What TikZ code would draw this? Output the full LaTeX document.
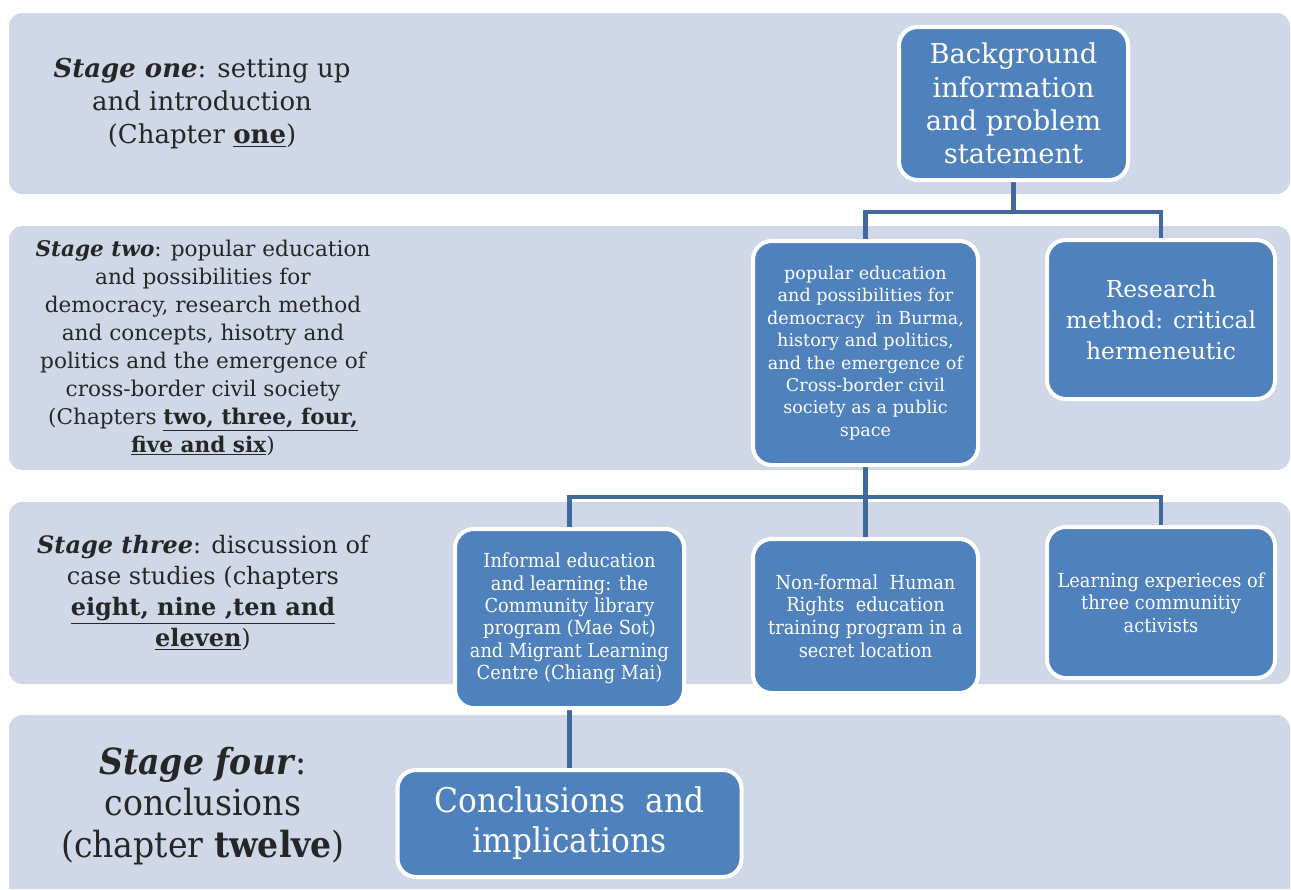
\documentclass[tikz,border=0pt]{standalone}
\usepackage{fontspec}
\setmainfont{DejaVu Serif}
\newfontfamily\narrowfont[FakeStretch=0.92]{DejaVu Serif}
\usetikzlibrary{positioning,calc}

\definecolor{bandgray}{HTML}{D0D8E8}
\definecolor{boxblue}{HTML}{4F81BD}
\definecolor{linkblue}{HTML}{41699B}
\definecolor{stagetext}{HTML}{262626}

\pgfdeclarelayer{bands}
\pgfdeclarelayer{links}
\pgfsetlayers{bands,links,main}

\begin{document}
\begin{tikzpicture}[x=0.75pt, y=-0.75pt,
    band/.style={fill=bandgray, rounded corners=10pt},
    stage/.style={align=center, text=stagetext},
    stepbox/.style={draw=white, line width=3pt, fill=boxblue, rounded corners=14pt,
                    text=white, align=center, inner sep=0pt},
    link/.style={draw=linkblue, line width=3.5pt}]
\useasboundingbox (0,0) rectangle (1291,889);

% Stage bands
\begin{pgfonlayer}{bands}
  \fill[band] (9,13) rectangle (1290,194);
  \fill[band] (9,226) rectangle (1290,470);
  \fill[band] (9,502) rectangle (1290,684);
  \fill[bandgray] (9,889) [rounded corners=10pt] -- (9,715) -- (1290,715) [sharp corners] -- (1290,889) -- cycle;
\end{pgfonlayer}

% Stage labels
\node[stage, font=\fontsize{19.5}{24.75}\selectfont] (stageone) at (202,104)
  {\textbf{\textit{Stage one}}: setting up\\ and introduction\\ (Chapter \underline{\textbf{one}})};
\node[stage, font=\fontsize{16.2}{21}\selectfont] (stagetwo) at (203,348)
  {\textbf{\textit{Stage two}}: popular education\\ and possibilities for\\ democracy, research method\\
   and concepts, hisotry and\\ politics and the emergence of\\ cross-border civil society\\
   (Chapters \underline{\textbf{two, three, four,}}\\ \underline{\textbf{five and six}})};
\node[stage, font=\fontsize{18}{23.25}\selectfont] (stagethree) at (203,593)
  {\textbf{\textit{Stage three}}: discussion of\\ case studies (chapters\\
   \underline{\textbf{eight, nine ,ten and}}\\ \underline{\textbf{eleven}})};
\node[stage, font=\narrowfont\fontsize{27}{31}\selectfont] (stagefour) at (203,806)
  {\textbf{\textit{Stage four}}:\\ conclusions\\ (chapter \textbf{twelve})};

% Boxes
\node[stepbox, minimum width=171.75pt, minimum height=114.75pt,
      font=\fontsize{20.5}{25}\selectfont] (background) at (1013.5,103.5)
  {Background\\ information\\ and problem\\ statement};
\node[stepbox, minimum width=168.75pt, minimum height=168pt,
      font=\fontsize{13.2}{16.8}\selectfont] (popular) at (865.5,353)
  {popular education\\ and possibilities for\\ democracy \ in Burma,\\ history and politics,\\
   and the emergence of\\ Cross-border civil\\ society as a public\\ space};
\node[stepbox, minimum width=171pt, minimum height=119.25pt,
      font=\fontsize{17.5}{23.25}\selectfont] (research) at (1161,319.5)
  {Research\\ method: critical\\ hermeneutic};
\node[stepbox, minimum width=171.75pt, minimum height=134.25pt,
      font=\narrowfont\fontsize{14.5}{16.8}\selectfont] (informal) at (569.5,618.5)
  {Informal education\\ and learning: the\\ Community library\\ program (Mae Sot)\\
   and Migrant Learning\\ Centre (Chiang Mai)};
\node[stepbox, minimum width=168.75pt, minimum height=115.5pt,
      font=\narrowfont\fontsize{14.5}{16.9}\selectfont] (nonformal) at (865.5,616)
  {Non-formal \ Human\\ Rights \ education\\ training program in a\\ secret location};
\node[stepbox, minimum width=171pt, minimum height=113.25pt,
      font=\narrowfont\fontsize{14.5}{16.9}\selectfont] (activists) at (1161,602.5)
  {Learning experieces of\\ three communitiy\\ activists};
\node[stepbox, minimum width=258pt, minimum height=80.25pt,
      font=\narrowfont\fontsize{25.5}{30}\selectfont] (conclusions) at (569.5,823.5)
  {Conclusions \ and\\ implications};

% Connectors
\begin{pgfonlayer}{links}
  \draw[link] (background.south) -- ++(0,30) coordinate (split1) -| (popular.north);
  \draw[link] (split1) -| (research.north);
  \draw[link] (popular.south) -- ++(0,30) coordinate (split2) -| (informal.north);
  \draw[link] (split2) -- (nonformal.north);
  \draw[link] (split2) -| (activists.north);
  \draw[link] (informal.south) -- (conclusions.north);
\end{pgfonlayer}
\end{tikzpicture}
\end{document}
